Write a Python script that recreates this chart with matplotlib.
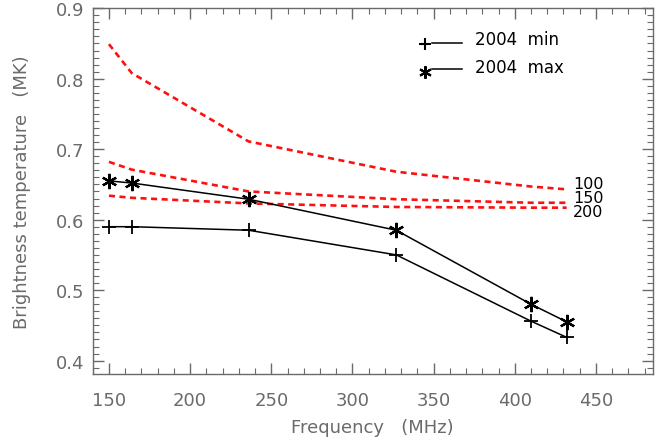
import matplotlib
matplotlib.use("Agg")
import matplotlib.pyplot as plt
from matplotlib.ticker import MultipleLocator

freq = [150, 164, 236, 327, 410, 432]
tb_min_2004 = [0.590, 0.590, 0.585, 0.550, 0.456, 0.433]
tb_max_2004 = [0.655, 0.652, 0.629, 0.585, 0.480, 0.455]
model_100 = [0.849, 0.808, 0.711, 0.668, 0.647, 0.643]
model_150 = [0.682, 0.671, 0.640, 0.629, 0.624, 0.624]
model_200 = [0.634, 0.631, 0.623, 0.618, 0.617, 0.617]
model_labels = ["100", "150", "200"]
label_y = [0.652, 0.632, 0.612]

xticks = [150, 200, 250, 300, 350, 400, 450]
yticks = [0.4, 0.5, 0.6, 0.7, 0.8, 0.9]

plt.rcParams['font.family'] = ['DejaVu Sans']
fig = plt.figure(figsize=(6.7, 4.39), dpi=100)
ax = fig.add_axes([0.1384, 0.1458, 0.8358, 0.8332])

gray = '#6a6a6a'
asterisk = (6, 2, 0)

for ys in (model_100, model_150, model_200):
    ax.plot(freq, ys, color='#ff1010', lw=1.9, dashes=[2.3, 1.7], zorder=2)

ax.plot(freq, tb_min_2004, color='black', lw=1.1, marker='+', ms=10, mew=1.3, zorder=3)
ax.plot(freq, tb_max_2004, color='black', lw=1.1, marker=asterisk, ms=11, mew=1.6, zorder=3)

for lab, y in zip(model_labels, label_y):
    ax.text(436, y, lab, fontsize=11.5, color='black', va='center', ha='left')

# legend drawn manually (marker to the left of the line)
for yline, ymk, ytxt, mk, txt in ((0.904, 0.902, 0.915, '+', '2004  min'),
                                  (0.833, 0.825, 0.839, asterisk, '2004  max')):
    ax.plot([0.593], [ymk], marker=mk, color='black', ms=9, mew=1.5,
            transform=ax.transAxes, clip_on=False)
    ax.plot([0.606, 0.659], [yline, yline], color='black', lw=1.1, transform=ax.transAxes)
    ax.text(0.682, ytxt, txt, fontsize=12, color='black', va='center',
            ha='left', transform=ax.transAxes)

ax.set_xlim(140, 485)
ax.set_ylim(0.381, 0.9)
ax.set_xticks(xticks)
ax.set_yticks(yticks)
ax.set_xticklabels([str(v) for v in xticks])
ax.set_yticklabels([f"{v:.1f}" for v in yticks])
ax.xaxis.set_minor_locator(MultipleLocator(10))
ax.yaxis.set_minor_locator(MultipleLocator(0.01))
ax.tick_params(which='both', direction='in', top=True, right=True, color=gray,
               labelcolor=gray, labelsize=13)
ax.tick_params(which='major', length=8, width=1.0)
ax.tick_params(which='minor', length=4, width=0.8)
ax.tick_params(axis='x', pad=12)
ax.tick_params(axis='y', pad=6)
for s in ax.spines.values():
    s.set_color(gray)
    s.set_linewidth(1.0)

ax.set_xlabel('Frequency   (MHz)', fontsize=13, color=gray, labelpad=7)
ax.set_ylabel('Brightness temperature   (MK)', fontsize=13, color=gray, labelpad=18)

fig.savefig('out.png', dpi=100)
